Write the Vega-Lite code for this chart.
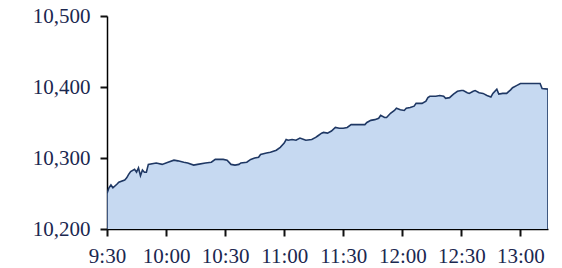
{
  "$schema": "https://vega.github.io/schema/vega-lite/v6.json",
  "width": 441,
  "height": 213,
  "autosize": "none",
  "padding": {"left": 107, "top": 16, "right": 14, "bottom": 39},
  "background": "white",
  "config": {
    "view": {"stroke": null}
  },
  "data": {
    "values": [
      {"t": "2024-01-02T09:30", "v": 10250},
      {"t": "2024-01-02T09:31", "v": 10258},
      {"t": "2024-01-02T09:32", "v": 10262},
      {"t": "2024-01-02T09:33", "v": 10258},
      {"t": "2024-01-02T09:35", "v": 10263},
      {"t": "2024-01-02T09:36", "v": 10266},
      {"t": "2024-01-02T09:39", "v": 10269},
      {"t": "2024-01-02T09:40", "v": 10272},
      {"t": "2024-01-02T09:41", "v": 10277},
      {"t": "2024-01-02T09:42", "v": 10281},
      {"t": "2024-01-02T09:44", "v": 10284},
      {"t": "2024-01-02T09:45", "v": 10280},
      {"t": "2024-01-02T09:46", "v": 10286},
      {"t": "2024-01-02T09:47", "v": 10275},
      {"t": "2024-01-02T09:48", "v": 10283},
      {"t": "2024-01-02T09:49", "v": 10280},
      {"t": "2024-01-02T09:50", "v": 10280},
      {"t": "2024-01-02T09:51", "v": 10291},
      {"t": "2024-01-02T09:55", "v": 10293},
      {"t": "2024-01-02T09:58", "v": 10291},
      {"t": "2024-01-02T10:01", "v": 10294},
      {"t": "2024-01-02T10:04", "v": 10297},
      {"t": "2024-01-02T10:06", "v": 10296},
      {"t": "2024-01-02T10:09", "v": 10294},
      {"t": "2024-01-02T10:11", "v": 10293},
      {"t": "2024-01-02T10:14", "v": 10290},
      {"t": "2024-01-02T10:16", "v": 10291},
      {"t": "2024-01-02T10:20", "v": 10293},
      {"t": "2024-01-02T10:23", "v": 10294},
      {"t": "2024-01-02T10:25", "v": 10298},
      {"t": "2024-01-02T10:29", "v": 10298},
      {"t": "2024-01-02T10:31", "v": 10297},
      {"t": "2024-01-02T10:33", "v": 10291},
      {"t": "2024-01-02T10:35", "v": 10290},
      {"t": "2024-01-02T10:37", "v": 10291},
      {"t": "2024-01-02T10:38", "v": 10293},
      {"t": "2024-01-02T10:41", "v": 10294},
      {"t": "2024-01-02T10:43", "v": 10298},
      {"t": "2024-01-02T10:45", "v": 10300},
      {"t": "2024-01-02T10:47", "v": 10301},
      {"t": "2024-01-02T10:48", "v": 10305},
      {"t": "2024-01-02T10:51", "v": 10307},
      {"t": "2024-01-02T10:53", "v": 10308},
      {"t": "2024-01-02T10:56", "v": 10311},
      {"t": "2024-01-02T10:58", "v": 10315},
      {"t": "2024-01-02T11:00", "v": 10321},
      {"t": "2024-01-02T11:01", "v": 10326},
      {"t": "2024-01-02T11:02", "v": 10325},
      {"t": "2024-01-02T11:04", "v": 10326},
      {"t": "2024-01-02T11:06", "v": 10325},
      {"t": "2024-01-02T11:08", "v": 10328},
      {"t": "2024-01-02T11:10", "v": 10326},
      {"t": "2024-01-02T11:11", "v": 10325},
      {"t": "2024-01-02T11:14", "v": 10326},
      {"t": "2024-01-02T11:16", "v": 10329},
      {"t": "2024-01-02T11:17", "v": 10331},
      {"t": "2024-01-02T11:19", "v": 10335},
      {"t": "2024-01-02T11:20", "v": 10336},
      {"t": "2024-01-02T11:22", "v": 10335},
      {"t": "2024-01-02T11:24", "v": 10338},
      {"t": "2024-01-02T11:26", "v": 10343},
      {"t": "2024-01-02T11:28", "v": 10342},
      {"t": "2024-01-02T11:30", "v": 10342},
      {"t": "2024-01-02T11:32", "v": 10343},
      {"t": "2024-01-02T11:34", "v": 10347},
      {"t": "2024-01-02T11:36", "v": 10347},
      {"t": "2024-01-02T11:39", "v": 10347},
      {"t": "2024-01-02T11:41", "v": 10347},
      {"t": "2024-01-02T11:42", "v": 10350},
      {"t": "2024-01-02T11:44", "v": 10353},
      {"t": "2024-01-02T11:46", "v": 10354},
      {"t": "2024-01-02T11:48", "v": 10356},
      {"t": "2024-01-02T11:49", "v": 10360},
      {"t": "2024-01-02T11:51", "v": 10357},
      {"t": "2024-01-02T11:52", "v": 10357},
      {"t": "2024-01-02T11:54", "v": 10363},
      {"t": "2024-01-02T11:56", "v": 10367},
      {"t": "2024-01-02T11:57", "v": 10370},
      {"t": "2024-01-02T11:59", "v": 10368},
      {"t": "2024-01-02T12:01", "v": 10367},
      {"t": "2024-01-02T12:02", "v": 10370},
      {"t": "2024-01-02T12:04", "v": 10371},
      {"t": "2024-01-02T12:06", "v": 10373},
      {"t": "2024-01-02T12:07", "v": 10377},
      {"t": "2024-01-02T12:10", "v": 10377},
      {"t": "2024-01-02T12:12", "v": 10380},
      {"t": "2024-01-02T12:13", "v": 10385},
      {"t": "2024-01-02T12:14", "v": 10387},
      {"t": "2024-01-02T12:17", "v": 10387},
      {"t": "2024-01-02T12:19", "v": 10388},
      {"t": "2024-01-02T12:21", "v": 10387},
      {"t": "2024-01-02T12:22", "v": 10384},
      {"t": "2024-01-02T12:24", "v": 10385},
      {"t": "2024-01-02T12:26", "v": 10390},
      {"t": "2024-01-02T12:28", "v": 10394},
      {"t": "2024-01-02T12:30", "v": 10395},
      {"t": "2024-01-02T12:31", "v": 10395},
      {"t": "2024-01-02T12:33", "v": 10392},
      {"t": "2024-01-02T12:34", "v": 10391},
      {"t": "2024-01-02T12:36", "v": 10394},
      {"t": "2024-01-02T12:37", "v": 10395},
      {"t": "2024-01-02T12:39", "v": 10392},
      {"t": "2024-01-02T12:41", "v": 10391},
      {"t": "2024-01-02T12:43", "v": 10388},
      {"t": "2024-01-02T12:45", "v": 10386},
      {"t": "2024-01-02T12:46", "v": 10391},
      {"t": "2024-01-02T12:48", "v": 10397},
      {"t": "2024-01-02T12:49", "v": 10390},
      {"t": "2024-01-02T12:51", "v": 10391},
      {"t": "2024-01-02T12:53", "v": 10391},
      {"t": "2024-01-02T12:55", "v": 10396},
      {"t": "2024-01-02T12:56", "v": 10399},
      {"t": "2024-01-02T12:58", "v": 10402},
      {"t": "2024-01-02T13:00", "v": 10405},
      {"t": "2024-01-02T13:10", "v": 10405},
      {"t": "2024-01-02T13:11", "v": 10398},
      {"t": "2024-01-02T13:14", "v": 10397}
    ],
    "format": {"parse": {"t": "date"}}
  },
  "mark": {"type": "area", "fill": "#c6d9f1", "fillOpacity": 1, "stroke": "#1f3864", "strokeWidth": 1.6, "clip": true},
  "encoding": {
    "x": {
      "field": "t",
      "type": "temporal",
      "title": null,
      "scale": {"nice": false},
      "axis": {
        "format": "%-H:%M",
        "tickCount": 8,
        "ticks": true,
        "tickSize": 7,
        "tickWidth": 2,
        "tickColor": "#111111",
        "domainColor": "#000000",
        "domainWidth": 1.5,
        "grid": false,
        "labelFont": "Times New Roman",
        "labelFontSize": 21,
        "labelColor": "#1b2850",
        "labelPadding": 9,
        "labelFlush": false
      }
    },
    "y": {
      "field": "v",
      "type": "quantitative",
      "title": null,
      "scale": {"domain": [10200, 10500], "zero": false, "nice": false},
      "axis": {
        "values": [10200, 10300, 10400, 10500],
        "format": ",.0f",
        "ticks": true,
        "tickSize": 7,
        "tickWidth": 2,
        "tickColor": "#111111",
        "domainColor": "#000000",
        "domainWidth": 1.5,
        "grid": false,
        "labelFont": "Times New Roman",
        "labelFontSize": 21,
        "labelColor": "#1b2850",
        "labelPadding": 10
      }
    }
  }
}
